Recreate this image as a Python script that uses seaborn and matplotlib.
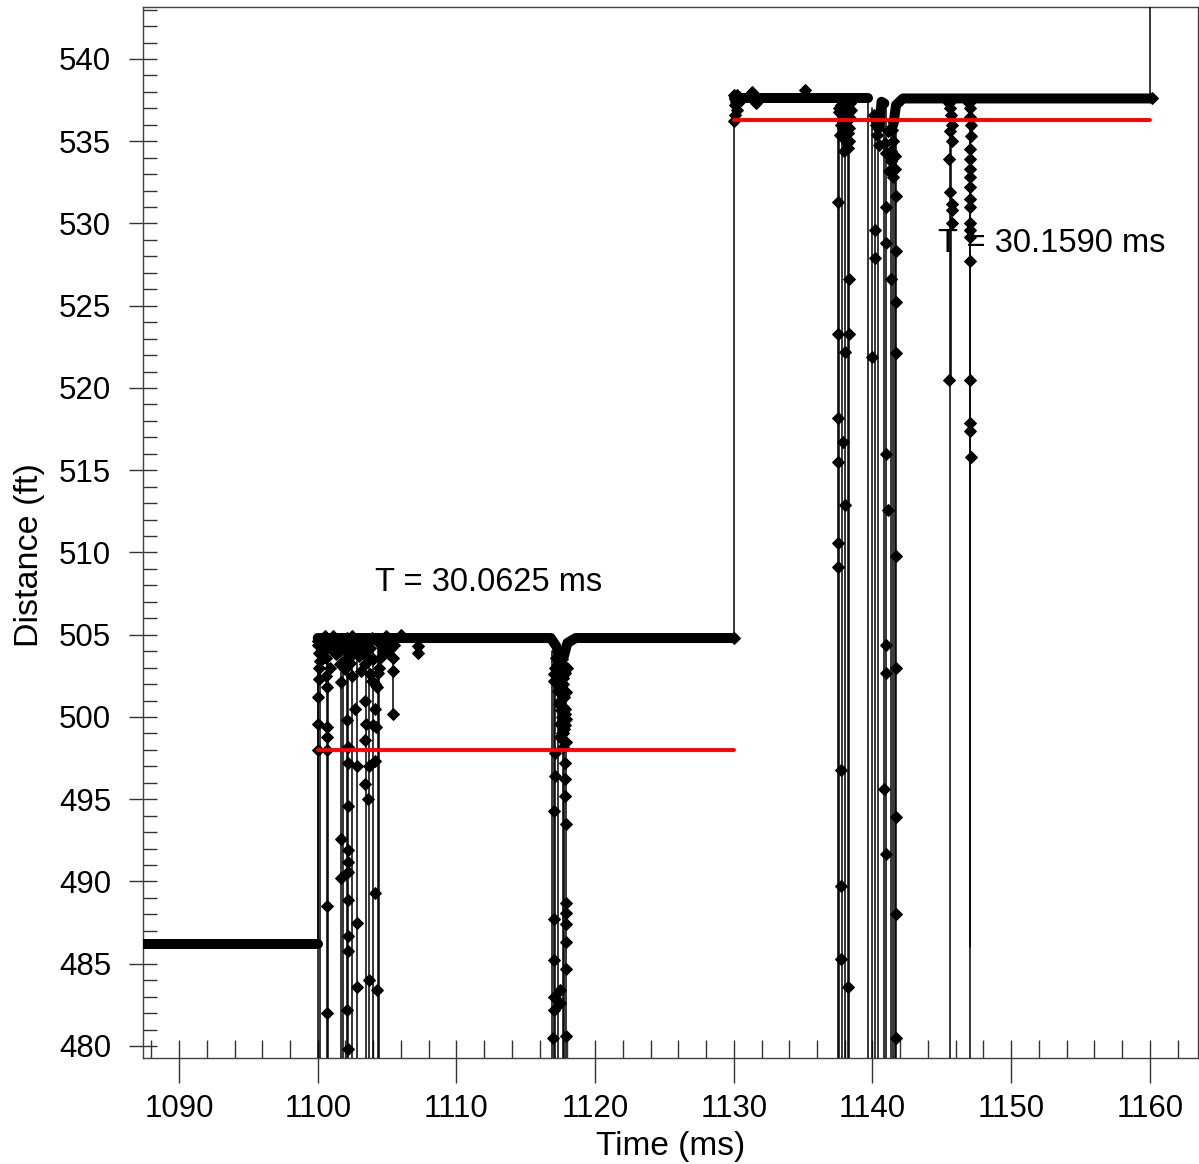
import numpy as np
import pandas as pd
import matplotlib
matplotlib.use("Agg")
import matplotlib.pyplot as plt
import seaborn as sns
from matplotlib.ticker import MultipleLocator

# ---------------- data ----------------
# thick sample trace (level plateaus), segments split by id
base_t = [1087.4, 1100.0,
          1100.0, 1116.8, 1117.2, 1117.45,
          1117.75, 1118.0, 1118.6, 1130.0,
          1130.0, 1139.7,
          1140.5, 1140.65, 1140.85,
          1141.5, 1141.7, 1142.2, 1160.15]
base_y = [486.2, 486.2,
          504.8, 504.8, 504.3, 503.7,
          503.7, 504.5, 504.8, 504.8,
          537.6, 537.6,
          535.9, 537.4, 537.3,
          536.0, 537.2, 537.6, 537.6]
base_seg = [0, 0,
            1, 1, 1, 1,
            2, 2, 2, 2,
            3, 3,
            4, 4, 4,
            5, 5, 5, 5]

# thin vertical dropout / step lines: time, upper value, lower value
dip_t = [1100.0, 1130.0, 1160.0,
         1100.05, 1100.15, 1100.7, 1100.75, 1101.65, 1101.8, 1102.1, 1102.2, 1102.5,
         1102.8, 1103.45, 1103.7, 1104.0, 1104.35, 1104.45, 1105.4, 1107.2,
         1116.9, 1117.0, 1117.1, 1117.3, 1117.65, 1117.75, 1117.9,
         1137.5, 1137.6, 1137.8, 1138.0, 1138.2, 1138.3,
         1139.7, 1140.0, 1140.2, 1140.4, 1140.8, 1141.0, 1141.3, 1141.5, 1141.6, 1141.7,
         1145.6, 1145.65, 1147.0, 1147.05]
dip_top = [504.8, 537.6, 546.0,
           504.8, 504.8, 504.8, 504.8, 504.8, 504.8, 504.8, 504.8, 504.8,
           504.8, 504.8, 504.8, 504.8, 504.8, 504.8, 504.8, 504.8,
           504.0, 503.9, 503.8, 503.7, 503.7, 503.8, 504.0,
           537.6, 537.6, 537.6, 537.6, 537.6, 537.6,
           537.6, 537.0, 536.5, 536.0, 537.3, 537.2, 536.5, 536.0, 536.5, 537.2,
           537.6, 537.6, 537.6, 537.6]
dip_low = [486.2, 504.8, 537.6,
           478.0, 478.0, 478.0, 478.0, 478.0, 478.0, 478.0, 478.0, 478.0,
           478.0, 478.0, 478.0, 478.0, 478.0, 478.0, 500.2, 503.9,
           478.0, 478.0, 478.0, 478.0, 478.0, 478.0, 478.0,
           478.0, 478.0, 478.0, 478.0, 478.0, 478.0,
           478.0, 478.0, 478.0, 478.0, 478.0, 478.0, 478.0, 478.0, 478.0, 478.0,
           478.0, 520.5, 478.0, 486.0]

# individual sample markers along the dropouts
mk_t = [1100.0, 1100.1, 1100.1, 1100.0, 1100.0, 1100.0, 1100.1,
        1100.5, 1100.6, 1100.6, 1100.7, 1100.7, 1100.7, 1100.7, 1100.7, 1100.7,
        1101.1, 1101.4, 1101.7, 1101.6, 1101.7, 1101.7, 1101.7,
        1102.1, 1102.1, 1102.1, 1102.2, 1102.2, 1102.2, 1102.2, 1102.2, 1102.2,
        1102.2, 1102.2, 1102.2, 1102.1, 1102.2,
        1102.5, 1102.6, 1102.5, 1102.7, 1102.8, 1102.8, 1102.8,
        1103.0, 1103.3, 1103.4, 1103.4, 1103.5, 1103.4, 1103.4, 1103.6, 1103.7, 1103.7,
        1103.9, 1104.0, 1104.1, 1104.1, 1104.0, 1104.2, 1104.1, 1104.1, 1104.3,
        1104.5, 1104.5, 1104.7, 1104.9, 1105.3, 1105.4, 1105.4,
        1106.0, 1107.2, 1107.2, 1130.0,
        # dense noise just below the 505 ft plateau
        1100.05, 1100.2, 1100.3, 1100.4, 1100.15, 1100.35, 1100.8, 1100.9, 1101.0,
        1100.85, 1101.2, 1101.3, 1101.5, 1101.35, 1101.9, 1102.0, 1101.95, 1102.3,
        1102.4, 1102.35, 1102.6, 1102.9, 1102.95, 1103.1, 1103.2, 1103.15, 1103.55,
        1103.6, 1103.8, 1103.75, 1104.25, 1104.35, 1104.3, 1104.6, 1104.8, 1105.0,
        1105.1, 1105.2, 1105.5, 1105.45, 1102.0, 1103.0, 1103.9, 1104.4,
        # 1117 ms dropout column
        1117.4, 1117.6, 1117.8, 1117.5, 1117.7, 1117.9, 1117.5, 1117.8, 1117.6,
        1117.8, 1117.7, 1117.9, 1117.7, 1117.1, 1117.0, 1117.0,
        1117.3, 1117.45, 1117.55, 1117.65, 1117.85, 1117.95, 1117.35, 1117.5,
        1117.6, 1117.75, 1117.85, 1117.4, 1117.55, 1117.7, 1117.8, 1117.45,
        1117.6, 1117.75, 1117.9, 1117.5, 1117.65, 1117.3, 1117.2, 1117.15,
        1117.1, 1117.1, 1117.0, 1117.0, 1117.0, 1117.0, 1117.0, 1116.95,
        1117.8, 1117.8, 1117.8, 1117.9, 1117.9, 1117.9, 1117.9, 1117.9, 1117.9,
        1117.9, 1117.5, 1117.5,
        1130.0, 1130.1, 1130.1, 1130.0, 1130.3, 1130.5, 1131.3, 1135.1, 1131.6,
        1130.15, 1130.25, 1130.2,
        1137.6, 1137.9, 1138.1, 1137.7, 1138.2, 1138.3, 1138.2, 1137.9,
        1137.55, 1137.75, 1138.0, 1138.25, 1138.35, 1137.65, 1137.85, 1138.05,
        1138.3, 1138.15, 1137.95, 1138.4, 1138.45,
        1137.5, 1138.3, 1137.5, 1138.3, 1138.0, 1137.5, 1137.9, 1137.5, 1138.0,
        1137.5, 1137.5, 1137.7, 1137.7, 1137.7, 1138.2,
        1140.2, 1140.3, 1140.5, 1140.9, 1141.0, 1141.3, 1141.5, 1141.3, 1141.5,
        1140.1, 1140.25, 1140.4, 1141.1, 1141.2, 1141.4, 1141.6, 1141.65, 1141.45,
        1140.2, 1140.2, 1140.0, 1141.0, 1141.7, 1141.7, 1141.0, 1141.3, 1141.7,
        1141.7, 1141.0, 1141.1, 1141.7, 1141.0, 1141.7, 1141.0, 1140.8, 1141.7,
        1141.0, 1141.7, 1141.7,
        1145.6, 1145.7, 1145.6, 1145.5, 1145.6, 1145.7, 1145.7, 1145.7, 1145.5,
        1145.55, 1145.65, 1145.7,
        1147.0, 1147.1, 1147.0, 1147.0, 1147.0, 1147.0, 1147.0, 1147.0, 1147.0,
        1147.0, 1147.0, 1147.0, 1147.0, 1147.0, 1147.0, 1147.0, 1147.1,
        1146.95, 1147.05, 1147.1,
        1160.15]
mk_y = [504.6, 503.9, 503.0, 501.2, 499.6, 498.0, 502.3,
        504.9, 503.6, 502.5, 501.8, 499.4, 498.8, 498.0, 488.5, 482.0,
        504.9, 504.6, 504.3, 503.2, 502.1, 492.6, 490.2,
        504.8, 503.5, 499.8, 498.2, 497.2, 494.6, 491.9, 491.2, 490.6,
        488.9, 486.7, 485.8, 482.2, 479.8,
        504.9, 503.9, 502.5, 500.5, 497.0, 487.5, 483.6,
        504.7, 504.5, 503.2, 501.0, 499.6, 498.6, 495.9, 495.0, 497.0, 484.0,
        504.8, 503.5, 502.0, 500.5, 499.5, 499.4, 497.3, 489.3, 483.4,
        504.7, 503.6, 504.2, 504.9, 504.2, 502.8, 500.2,
        505.0, 504.3, 503.9, 504.8,
        504.4, 504.5, 504.2, 504.6, 503.4, 504.0, 504.3, 504.6, 504.1,
        503.0, 504.5, 504.2, 504.6, 503.8, 504.5, 504.1, 503.0, 504.4,
        504.6, 503.3, 504.2, 504.5, 503.7, 504.6, 504.0, 502.8, 504.3,
        503.6, 504.2, 502.6, 504.6, 502.7, 501.8, 504.3, 504.0, 504.6,
        503.9, 504.5, 504.4, 503.6, 502.9, 503.9, 502.2, 503.0,
        504.0, 503.5, 503.0, 502.5, 502.0, 501.5, 501.0, 500.5, 500.0,
        499.5, 499.0, 498.5, 498.2, 503.0, 502.2, 502.6,
        503.2, 502.8, 503.8, 502.4, 502.7, 503.0, 501.6, 501.8,
        501.4, 501.2, 500.2, 500.8, 500.4, 500.6, 499.8, 499.6,
        499.0, 499.3, 499.9, 498.8, 498.6, 504.0, 503.6, 502.9,
        497.8, 496.4, 494.3, 487.7, 485.2, 483.0, 482.2, 480.5,
        497.2, 496.2, 495.2, 493.5, 488.7, 488.1, 487.4, 486.3, 484.7,
        480.6, 483.4, 482.6,
        537.8, 537.2, 536.6, 536.2, 537.7, 537.5, 538.0, 538.1, 537.3,
        537.4, 537.8, 536.9,
        537.0, 536.6, 536.2, 536.0, 535.5, 535.0, 534.6, 535.8,
        536.8, 537.2, 537.0, 536.9, 536.4, 535.4, 535.2, 535.9,
        535.8, 534.9, 534.4, 537.3, 536.9,
        531.3, 526.6, 523.3, 523.3, 522.2, 518.2, 516.7, 515.5, 512.9,
        510.6, 509.1, 496.8, 489.7, 485.3, 483.6,
        536.3, 535.4, 534.8, 534.9, 534.3, 534.4, 535.0, 533.8, 532.8,
        536.6, 536.0, 535.8, 535.6, 533.2, 535.7, 534.1, 533.3, 536.2,
        529.6, 527.9, 521.9, 531.0, 531.7, 528.3, 528.8, 526.6, 525.2,
        522.1, 516.0, 512.6, 509.8, 504.4, 503.0, 502.7, 495.6, 493.9,
        491.7, 488.0, 480.5,
        537.0, 536.0, 535.6, 533.9, 531.9, 531.2, 530.8, 530.0, 520.5,
        537.3, 536.6, 535.0,
        537.0, 536.0, 534.5, 533.9, 533.3, 532.8, 532.2, 531.5, 531.0,
        530.0, 529.6, 529.2, 527.7, 520.5, 517.9, 517.4, 515.8,
        537.3, 536.5, 535.3,
        537.6]

# red threshold lines
thr_t0 = [1100.0, 1130.0]
thr_t1 = [1130.0, 1160.0]
thr_y = [498.0, 536.3]

# annotations
ann_text = ["T = 30.0625 ms", "T = 30.1590 ms"]
ann_t = [1104.13, 1144.72]
ann_y = [508.2, 528.8]

# ---------------- build tables ----------------
base_df = pd.DataFrame({"t": base_t, "y": base_y, "seg": base_seg})
dip_rows = []
for i, (t, hi, lo) in enumerate(zip(dip_t, dip_top, dip_low)):
    dip_rows.append({"t": t, "y": hi, "u": i})
    dip_rows.append({"t": t, "y": lo, "u": i})
dip_df = pd.DataFrame(dip_rows)
mk_df = pd.DataFrame({"t": mk_t, "y": mk_y})
thr_rows = []
for i, (a, b, y) in enumerate(zip(thr_t0, thr_t1, thr_y)):
    thr_rows.append({"t": a, "y": y, "u": i})
    thr_rows.append({"t": b, "y": y, "u": i})
thr_df = pd.DataFrame(thr_rows)

# ---------------- plot ----------------
sns.set_theme(style="white")
plt.rcParams["font.family"] = ["Liberation Sans", "DejaVu Sans"]

fig = plt.figure(figsize=(11.99, 11.64), dpi=100)
ax = fig.add_axes([143 / 1199, 1 - 1058 / 1164, (1198 - 143) / 1199, (1058 - 7) / 1164])

sns.lineplot(data=dip_df, x="t", y="y", units="u", estimator=None, sort=False,
             color="black", linewidth=1.1, ax=ax, zorder=3)
sns.lineplot(data=base_df, x="t", y="y", units="seg", estimator=None, sort=False,
             color="black", linewidth=7.2, ax=ax, zorder=4)
sns.scatterplot(data=mk_df, x="t", y="y", marker="D", s=36, color="black",
                edgecolor="black", linewidth=0.8, ax=ax, zorder=5)
sns.lineplot(data=thr_df, x="t", y="y", units="u", estimator=None, sort=False,
             color="#ff0000", linewidth=2.8, ax=ax, zorder=6)

for txt, tx, ty in zip(ann_text, ann_t, ann_y):
    ax.text(tx, ty, txt, fontsize=23.5, color="black", ha="left", va="center", zorder=1)

ax.set_xlim(1087.4, 1163.47)
ax.set_ylim(479.27, 543.16)

ax.xaxis.set_major_locator(MultipleLocator(10))
ax.xaxis.set_minor_locator(MultipleLocator(2))
ax.yaxis.set_major_locator(MultipleLocator(5))
ax.yaxis.set_minor_locator(MultipleLocator(1))
ax.xaxis.remove_overlapping_locs = False
ax.yaxis.remove_overlapping_locs = False

tick_col = "#333333"
ax.tick_params(axis="x", which="major", direction="out", length=18, width=1.0,
               color=tick_col, pad=8, labelsize=22.5, labelcolor="black")
ax.tick_params(axis="x", which="minor", direction="in", length=13, width=1.0, color=tick_col)
ax.tick_params(axis="y", which="major", direction="out", length=10, width=1.0,
               color=tick_col, pad=13, labelsize=22.5, labelcolor="black")
ax.tick_params(axis="y", which="minor", direction="in", length=10, width=1.0, color=tick_col)
ax.tick_params(bottom=True, left=True, top=False, right=False)
ax.tick_params(which="minor", bottom=True, left=True, top=False, right=False)

for sp in ax.spines.values():
    sp.set_color("#404040")
    sp.set_linewidth(1.0)

ax.set_xlabel("Time (ms)", fontsize=24, color="black")
ax.set_ylabel("Distance (ft)", fontsize=24.5, color="black")
ax.xaxis.set_label_coords(0.5, -0.069)
ax.yaxis.set_label_coords(-0.093, 0.479)

fig.savefig("out.png", dpi=100, facecolor="white")
